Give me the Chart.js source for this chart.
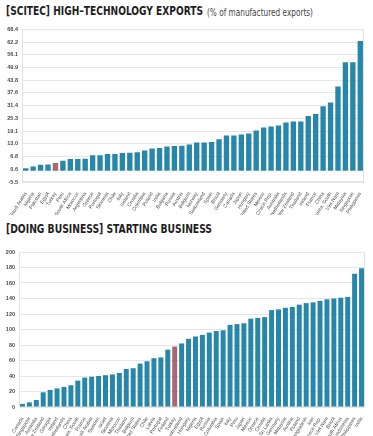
<!DOCTYPE html>
<html>
<head>
<meta charset="utf-8">
<script src="https://cdn.jsdelivr.net/npm/chart.js@4"></script>
<style>
  body { margin: 0; background: #fff; width: 373px; height: 436px; overflow: hidden; position: relative; }
  .ttl { position: absolute; font-family: "DejaVu Sans Condensed", "DejaVu Sans", sans-serif; font-stretch: condensed; font-weight: bold; font-size: 12.5px; line-height: 12.5px; color: #1e1e1e; white-space: nowrap; transform-origin: 0 0; }
  .sub { font-weight: normal; font-size: 10px; color: #444; }
  .box { position: absolute; left: 0; width: 373px; }
</style>
</head>
<body>
<div class="ttl" data-w="197" style="top:5px;left:6px">[SCITEC] HIGH–TECHNOLOGY EXPORTS</div>
<div class="ttl sub" data-w="106" style="top:7px;left:207px">(% of manufactured exports)</div>
<div class="box" style="top:22px;height:193px"><canvas id="myChart"></canvas></div>
<div class="ttl" data-w="206" style="top:223px;left:6px">[DOING BUSINESS] STARTING BUSINESS</div>
<div class="box" style="top:244px;height:192px"><canvas id="myChart2"></canvas></div>
<script>
// high-technology exports, % of manufactured exports
var techCountries = ['Saudi Arabia', 'Nigeria', 'Pakistan', 'Egypt', 'Turkey', 'Peru', 'South Africa', 'Morocco',
    'Argentina', 'Greece', 'Portugal', 'Slovenia', 'Chile', 'Italy', 'Iceland', 'Croatia', 'Colombia', 'Poland',
    'India', 'Bulgaria', 'Russia', 'Austria', 'Belgium', 'Norway', 'Switzerland', 'Spain', 'Brazil', 'Germany',
    'Canada', 'Japan', 'Hungary', 'United States', 'Mexico', 'Czech Rep.', 'Australia', 'Netherlands',
    'New Zealand', 'Thailand', 'Ireland', 'France', 'China', 'Korea, South', 'Viet Nam', 'Malaysia',
    'Singapore', 'Philippines'];
var techValues = [1.2, 2.0, 2.9, 3.0, 3.7, 4.8, 5.6, 5.6, 5.7, 7.5, 7.5, 8.0, 8.1, 8.5, 8.7, 8.9, 9.7, 10.7,
    10.9, 11.7, 11.9, 12.1, 12.6, 13.6, 13.6, 13.8, 15.2, 17.0, 17.0, 17.5, 18.0, 19.4, 20.9, 21.3, 21.9, 23.3,
    23.8, 23.8, 26.4, 27.4, 31.2, 33.0, 40.7, 52.4, 52.4, 62.7];
var techTicks = [-5.5, 0.6, 6.8, 13.0, 19.1, 25.3, 31.4, 37.6, 43.8, 49.9, 56.1, 62.2, 68.4];

// doing business, starting a business rank
var bizCountries = ['Canada', 'Singapore', 'Australia', 'New Zealand', 'Georgia', 'Ireland', 'Netherlands',
    'China', 'Korea, South', 'France', 'Saudi Arabia', 'Sweden', 'Israel', 'Slovenia', 'Morocco', 'Thailand',
    'Belgium', 'United States', 'Chile', 'Latvia', 'Portugal', 'Finland', 'Turkey', 'Switzerland', 'Hungary',
    'Nigeria', 'Egypt', 'Russia', 'Colombia', 'Spain', 'Italy', 'Peru', 'Japan', 'Mexico', 'Greece', 'Croatia',
    'Sri Lanka', 'Germany', 'Malaysia', 'Austria', 'Poland', 'Bangladesh', 'Iran', 'Czech Rep.', 'Viet Nam',
    'Brazil', 'South Africa', 'Indonesia', 'Philippines', 'India'];
var bizValues = [4, 6, 9, 19, 22, 24, 26, 28, 34, 38, 39, 40, 41, 42, 44, 49, 50, 56, 59, 63, 64, 74, 78, 82,
    88, 91, 93, 96, 98, 99, 106, 107, 108, 114, 115, 116, 125, 126, 128, 129, 132, 134, 135, 137, 139, 140, 141,
    142, 172, 179];
var bizTicks = [0, 20, 40, 60, 80, 100, 120, 140, 160, 180, 200];

var highlight = 'Turkey';
var blue = '#2887a8';
var red = '#ad6671';

// squeeze the headings to the narrow width of the print titles
document.querySelectorAll('.ttl').forEach(function (el) {
    var w = el.getBoundingClientRect().width;
    el.style.transform = 'scaleX(' + (Number(el.dataset.w) / w) + ')';
});

Chart.defaults.font.family = '"Liberation Sans", Arial, sans-serif';
Chart.defaults.color = '#4a4a4a';

var frame = {
    id: 'frame',
    beforeDraw: function (chart) {
        var a = chart.chartArea, c = chart.ctx;
        c.save();
        c.strokeStyle = '#e2e2e2';
        c.lineWidth = 1;
        c.strokeRect(a.left + 0.5, a.top + 0.5, a.width - 1, a.height - 1);
        c.restore();
    }
};

function makeChart(id, labels, values, ticks, opts) {
    return new Chart(document.getElementById(id).getContext('2d'), {
        type: 'bar',
        data: {
            labels: labels,
            datasets: [{
                data: values,
                backgroundColor: labels.map(function (l) { return l === highlight ? red : blue; }),
                categoryPercentage: 0.8,
                barPercentage: 0.9
            }]
        },
        options: {
            responsive: true,
            maintainAspectRatio: false,
            animation: false,
            layout: { padding: opts.padding },
            plugins: { legend: { display: false }, tooltip: { enabled: false } },
            scales: {
                x: {
                    grid: { display: false },
                    border: { display: false },
                    ticks: { autoSkip: false, maxRotation: 58, minRotation: 58, padding: 1, font: { size: 5 } },
                    afterFit: function (s) { s.height = opts.xh; }
                },
                y: {
                    min: ticks[0],
                    max: ticks[ticks.length - 1],
                    afterBuildTicks: function (s) { s.ticks = ticks.map(function (v) { return { value: v }; }); },
                    grid: { color: '#e6e6e6', drawTicks: false },
                    border: { display: false },
                    ticks: {
                        padding: 4,
                        font: { size: 5.5, weight: 'bold' },
                        callback: function (v) { return opts.dec ? Number(v).toFixed(1) : v; }
                    },
                    afterFit: function (s) { s.width = opts.yw; }
                }
            }
        },
        plugins: [frame]
    });
}

var chart = makeChart('myChart', techCountries, techValues, techTicks,
    { padding: { top: 6, right: 9, left: 0, bottom: 0 }, xh: 33, yw: 22, dec: true });
var chart2 = makeChart('myChart2', bizCountries, bizValues, bizTicks,
    { padding: { top: 8, right: 8, left: 0, bottom: 0 }, xh: 29, yw: 19, dec: false });
</script>
</body>
</html>
